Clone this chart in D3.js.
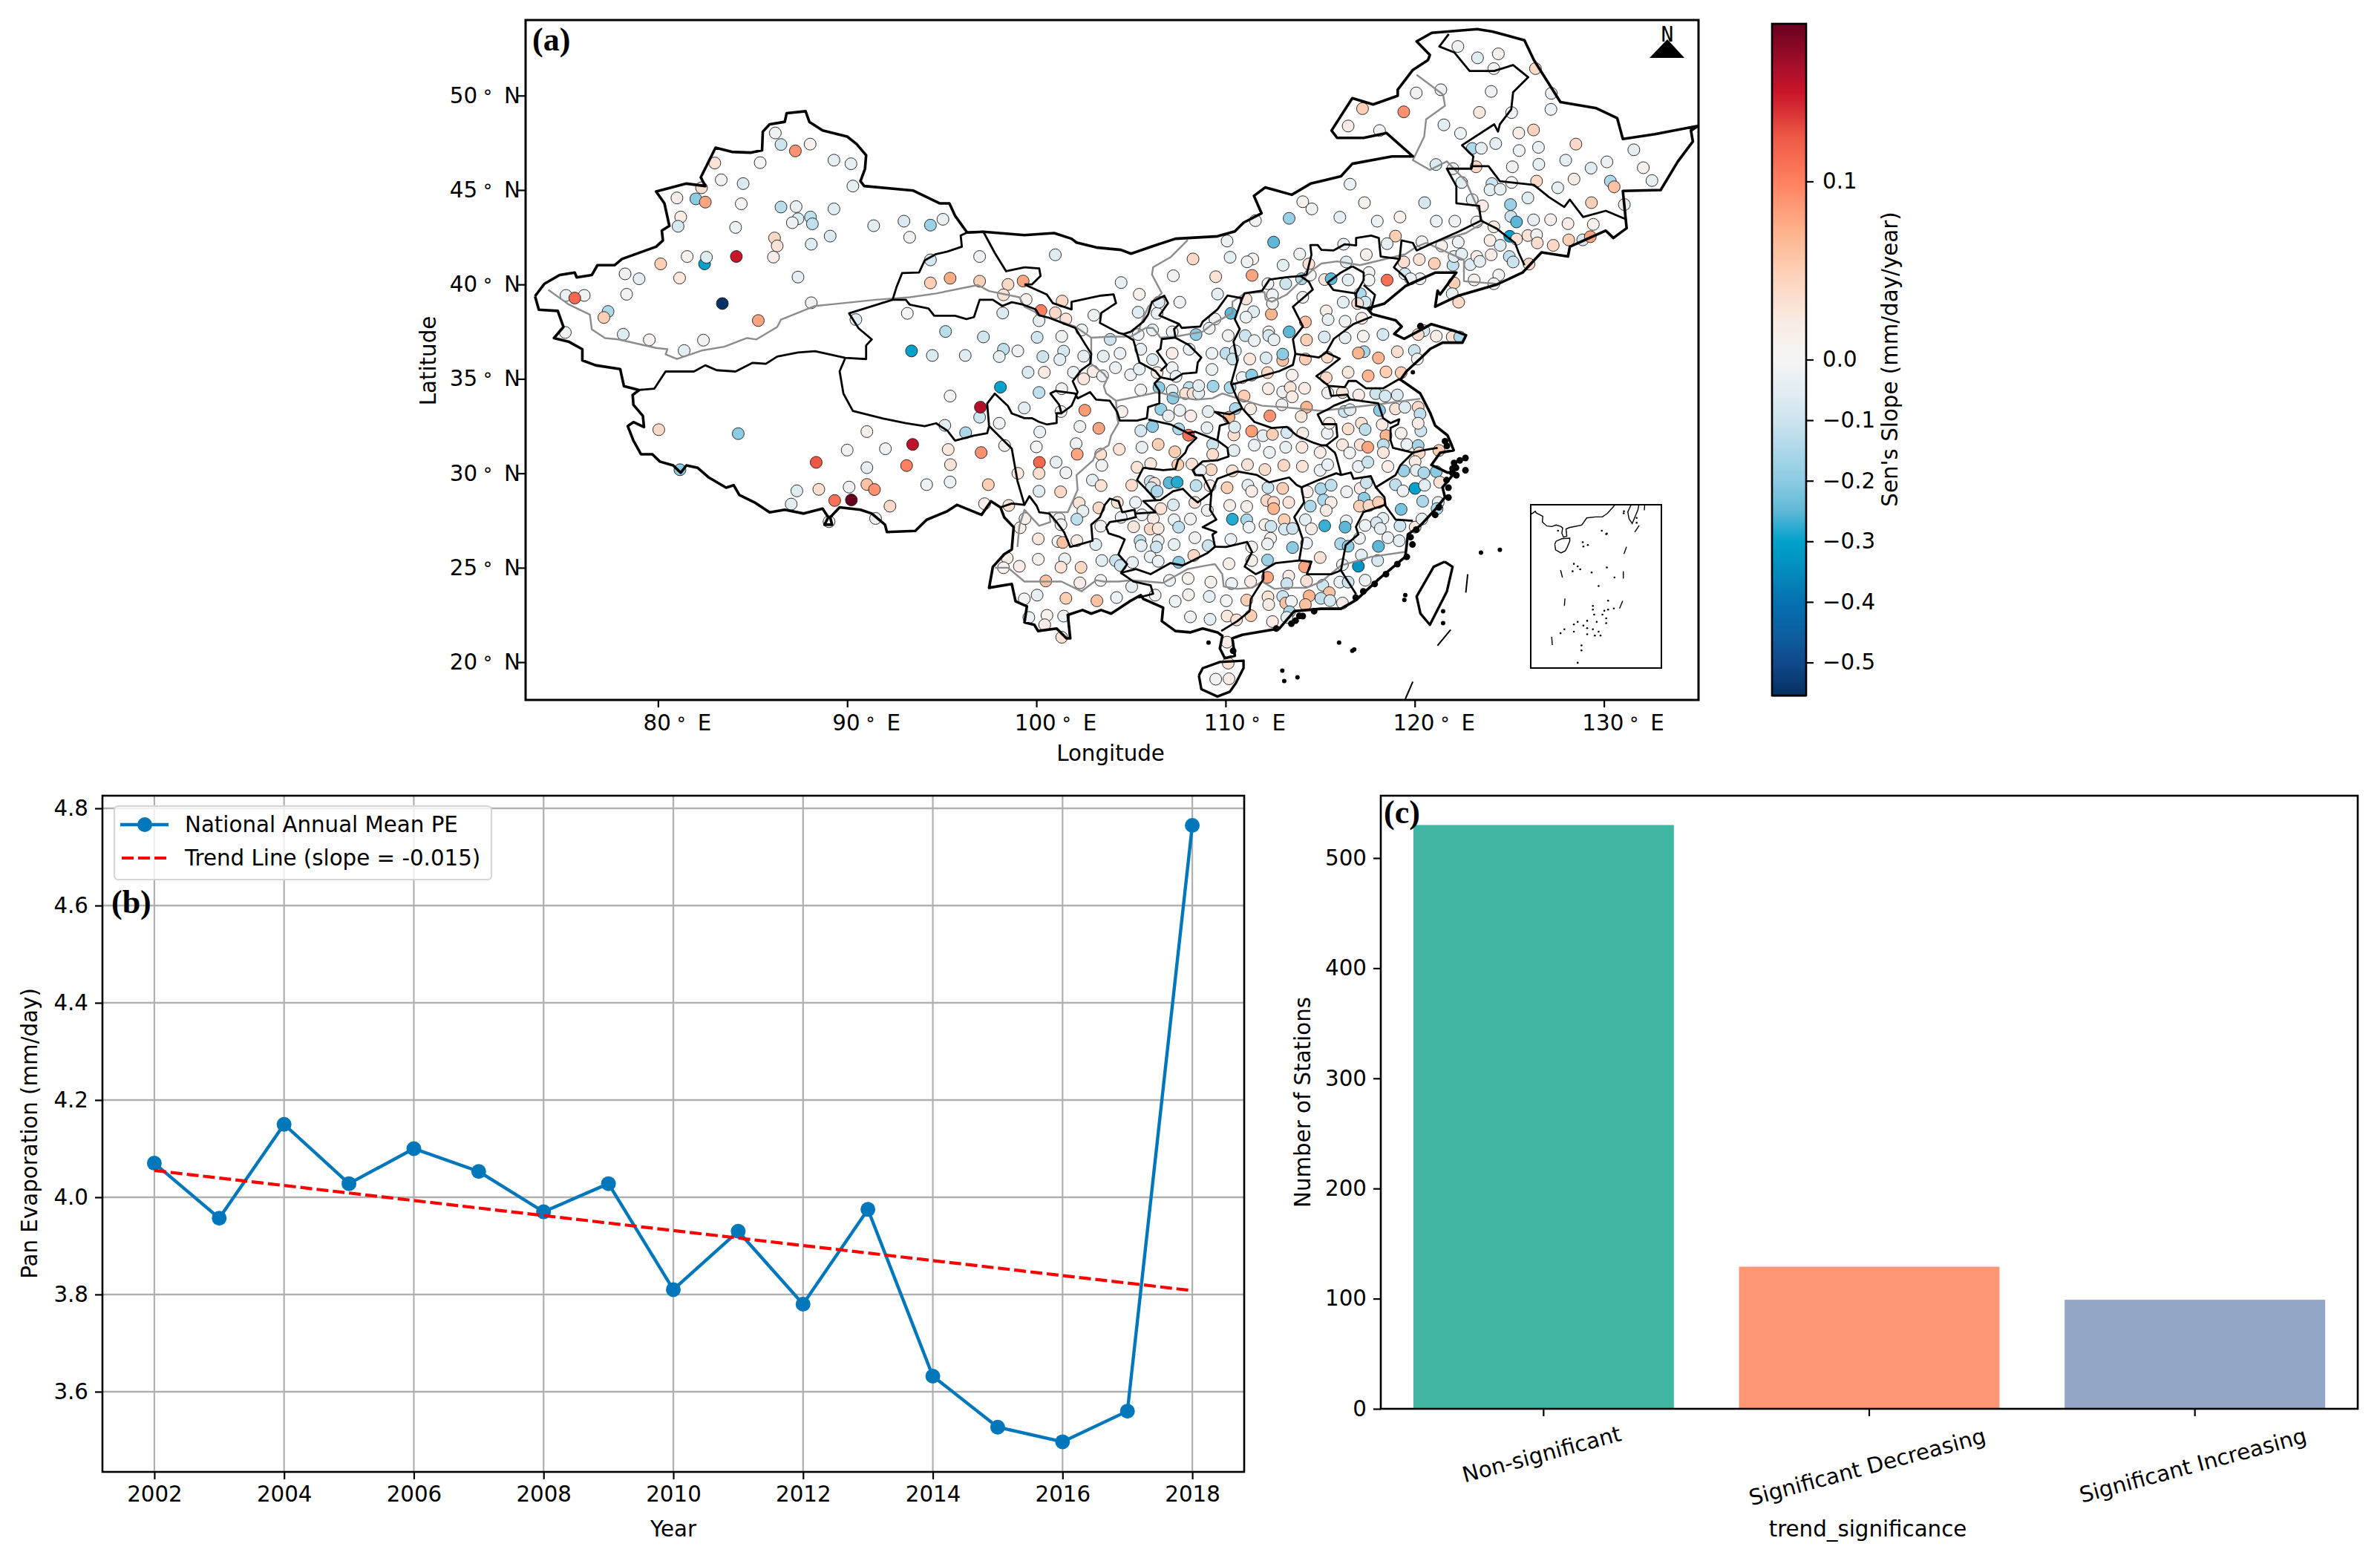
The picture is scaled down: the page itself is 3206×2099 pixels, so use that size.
<!DOCTYPE html>
<html>
<head>
<meta charset="utf-8">
<script src="https://cdn.jsdelivr.net/npm/d3@7"></script>
<style>
body { margin: 0; background: #fff; }
text { font-family: "DejaVu Sans"; fill: #000; }
</style>
</head>
<body>
<script>
// panel (b) values
var years = [2002,2003,2004,2005,2006,2007,2008,2009,2010,2011,2012,2013,2014,2015,2016,2017,2018];
var meanPE = [4.07,3.957,4.15,4.028,4.10,4.053,3.97,4.028,3.81,3.93,3.78,3.975,3.632,3.527,3.497,3.56,4.765];
var trendYears = [2002,2018];
var trendPE = [4.055,3.808];

// panel (c) values
var trendCats = ["Non-significant","Significant Decreasing","Significant Increasing"];
var trendCounts = [530,129,99];
var trendColors = ["#41b7a3","#fe9773","#92a6c6"];

// colour bar stops
var slopeStops = [-0.5545,-0.5,-0.46,-0.4,-0.356,-0.3,-0.25,-0.2,-0.1,-0.05,0,0.021,0.049,0.074,0.1,0.1245,0.15,0.165,0.1885];
var colorStops = ["#053061","#10488a","#0e5c9e","#0571b0","#0588bb","#00a2cc","#5fb7d7","#8ccbe2","#cde4ef","#e4eef3","#f5f5f5","#f9ece5","#fdd0b7","#fdb089","#ff8060","#ee5a46","#c9142a","#a50f2b","#67001f"];
var slopeTicks = [0.1,0,-0.1,-0.2,-0.3,-0.4,-0.5];

// stations: lon, lat, sen's slope
var stations = [
[86.2,48.02,-.02],[86.5,47.41,-.1],[87.26,47.07,.09],[88.04,47.43,.01],[89.3,46.58,-.05],[90.2,46.39,-.04],[90.3,45.21,-.04],[83,46.43,.03],[85.4,46.45,-.01],[83.34,45.54,-.02],[84.5,45.34,-.07],[82.3,45.12,.035],[81,44.58,.02],[82,44.53,-.2],[82.5,44.36,.08],[84.4,44.27,.005],[86.5,44.1,-.13],[87.3,44.12,-.03],[89.3,44,-.06],[88.06,43.57,-.12],[87.4,43.48,-.06],[87.1,43.27,-.03],[88.16,43.21,-.12],[81.2,43.57,.02],[81.06,43.08,-.08],[84.1,43.02,-.03],[91.4,43.11,-.05],[93,43.35,-.07],[94.4,43.14,-.18],[95.06,43.45,-.03],[93.3,42.5,-.02],[89.1,42.56,-.07],[88.1,42.13,-.06],[86.16,42.46,.04],[86.3,42.04,.03],[86.1,41.45,.02],[82.46,41.09,-.3],[82.56,41.44,-.06],[81.54,41.48,.01],[84.14,41.48,.15],[80.14,41.09,.05],[81.14,40.34,.025],[87.4,40.39,-.05],[78.26,40.56,-.02],[79,40.3,-.05],[75.14,39.42,-.03],[76.1,39.42,-.015],[75.6,39.28,.115],[78.34,39.48,-.015],[77.36,38.57,-.15],[77.14,38.25,.05],[83.4,38.99,-.55],[88.1,39.03,-.02],[85.3,38.09,.08],[75.1,37.46,-.02],[78.16,37.36,-.06],[79.54,37.07,.008],[82.4,37.05,-.02],[81.38,36.5,-.05],
[101,41.57,-.06],[94.4,41.3,-.08],[97,41.48,-.02],[94.4,40.08,.05],[95.44,40.33,.075],[97,40.17,.05],[98.5,40,.04],[99.3,40.18,.08],[98.26,39.45,.03],[99.46,39.2,.01],[101.36,39.12,.04],[100.24,38.62,.1],[101,38.5,.04],[101.56,38.17,.03],[93.18,38.47,-.01],[98.22,38.49,-.07],[100.14,38.08,-.04],[103.04,38.37,-.02],[95.2,37.51,-.13],[97.2,37.22,-.09],[100.04,37.2,-.09],[101.34,37.25,-.02],[102.4,37.59,-.02],[90.46,38.14,-.05],[93.4,36.48,-.3],[94.5,36.24,-.07],[96.24,36.24,-.06],[98.26,36.57,-.12],[98.04,36.18,-.04],[99.02,36.48,-.02],[100.34,36.18,-.1],[101.44,36.47,-.08],[101.24,36.02,-.05],[102.5,36.2,-.05],[103.54,36.2,-.05],[99.56,35.35,-.07],[100.42,35.35,.02],[101.96,35.35,-.03],[103,35.39,.02],[102.5,35,.025],[103.5,35.16,-.02],[103.9,37.09,-.1],
[98.1,34.56,-.3],[95.44,34.09,-.01],[100.14,34.28,-.12],[101.34,34.48,-.02],[99.36,33.46,-.05],[101.3,33.27,-.02],[102.56,33.34,.085],[97,32.97,-.1],[97.04,33.5,.16],[98.04,32.65,-.02],[95.16,32.54,-.05],[100.18,32.19,-.03],[102.3,32.48,-.02],[103.3,32.38,.08],[80.04,32.31,.04],[84.24,32.1,-.2],[91.04,32.21,.012],[96.26,32.15,-.15],[100,31.4,-.01],[102.1,31.57,-.015],[98.32,31.47,.01],[90,31.23,-.015],[92.02,31.3,-.02],[93.46,31.53,.155],[95.34,31.26,.025],[97.08,31.1,.09],[102.16,31.01,.08],[103.4,31.01,.035],[101.04,30.59,-.04],[100.16,30.58,.115],[103.46,30.42,-.02],[88.36,30.58,.125],[91.04,30.3,-.05],[93.14,30.41,.1],[95.46,30.46,.03],[100.14,30,.035],[99.02,30,.025],[101.56,30.03,-.02],[102.96,29.64,-.05],[103.42,29.35,.03],[94.2,29.4,-.02],[95.44,29.54,-.02],[97.46,29.4,.05],[91.04,29.41,.06],[91.44,29.14,.09],[90.1,29.27,-.02],[88.5,29.15,.035],[87.34,29.07,-.06],[100.14,29.05,-.06],[101.28,29.02,.04],[87.04,28.37,-.05],[89.34,28.56,.11],[90.22,28.59,.1885],[92.26,28.26,.04],[97.26,28.39,.015],[98.54,28.3,.03],[102.26,28.43,.03],[102.46,28,-.04],[103.3,28.17,.04],[91.5,27.61,-.03],[89.04,27.44,-.01],[81.16,30.19,-.2],[99.14,27.12,.015],[99.4,27.6,.015],[101.2,27.6,-.02],[102.14,27.57,-.12],[101.3,27.28,-.02],[103.4,27.2,-.02],[100.1,26.53,.025],[101.14,26.39,-.01],[101.4,26.34,.06],[102.14,26.43,.02],[103.14,26.23,-.06],[98.46,25.51,.02],[100.1,25.45,.01],[101.5,25.47,-.03],[103.46,25.38,-.05],[101.3,25.03,.03],[102.36,25.02,.04],[99.1,25.08,.02],[98.26,25,.01],[100.5,24.3,.06],[102.3,24.2,.02],[103.4,24.33,-.02],[100.04,23.55,-.04],[99.36,23.35,-.01],[101.56,23.38,.05],[103.2,23.25,.06],[99.6,22.37,-.03],[100.56,22.48,.01],[101.44,22.44,-.02],[100.44,21.98,.02],[101.34,21.32,.03],
[122.28,52.6,-.02],[124.42,52.21,.01],[123.32,52,-.06],[124.18,51.43,-.02],[126.38,51.43,.04],[121.38,50.31,-.02],[120.08,50.14,-.02],[124.04,50.22,-.02],[127.22,50.12,-.03],[117.24,49.31,.05],[119.42,49.14,.09],[123.42,49.11,.025],[125.12,49.1,-.02],[127.2,49.27,-.03],[121.54,48.45,-.05],[116.48,48.39,.02],[118.14,48.15,-.02],[122.42,48,-.02],[125.5,48.02,.02],[126.28,48.18,.045],[123.04,47.2,-.15],[123.52,47.21,-.05],[124.28,47.46,-.05],[125.52,47.09,-.02],[126.54,47.26,-.03],[128.52,47.43,.04],[131.58,47.13,-.05],[127.98,46.58,-.05],[126.56,46.36,-.04],[125.16,46.23,-.02],[129.32,46.16,-.06],[130.16,46.49,-.03],[132.08,46.18,.01],[123.24,46.23,.04],[121.12,46.35,-.07],[122.02,46.13,-.03],[122.48,45.4,-.06],[124.08,45.34,-.1],[125.12,45.4,-.01],[126.44,45.47,.04],[128.42,45.58,.02],[130.34,45.47,-.15],[130.54,45.17,.06],[132.54,45.5,-.04],[123.98,45.01,-.05],[124.52,45.04,-.04],[127.56,45.12,-.04],[125.98,44.58,-.06],[116.58,45.31,-.03],[114.08,44.38,.01],[114.56,44,-.015],[117.34,44.33,.01],[120.52,44.33,-.08],[125.06,44.23,-.18],[129.34,44.33,.05],[131.08,44.23,-.04],[123.04,44.49,-.04],[123.58,44.16,.02],[111.58,43.38,-.02],[113.36,43.5,-.18],[116.04,43.56,-.05],[118.02,43.35,-.02],[119.22,43.57,.012],[121.14,43.35,-.03],[122.12,43.35,-.02],[123.28,43.31,-.02],[125.08,43.6,-.1],[125.38,43.31,-.25],[126.28,43.42,-.04],[127.18,43.43,.012],[128.1,43.22,.02],[129.44,43.18,.012],[124.18,43.05,.02],[118.98,42.56,.05],[110.08,42.3,-.03],[112.54,42.24,-.25],[116.24,42.13,-.03],[118.54,42.16,-.05],[120.38,42.26,-.02],[122.3,42.24,-.03],[121.42,42.04,.015],[125.02,42.55,-.3],[125.98,42.59,.03],[126.44,42.63,-.02],[125.38,42.4,.03],[123.98,42.33,.02],[126.48,42.2,.035],[127.32,42.07,.04],[128.88,42.36,-.08],[128.14,42.36,.05],[129.28,42.53,.08],[124.52,42.07,-.06],[117.44,41.58,.012],[124.04,41.57,.02],[108.28,41.35,.04],[110.24,41.44,-.05],[111.44,41.35,.01],[111.14,41.2,-.02],[113.04,41.02,-.05],[113.92,41.61,-.02],[114.4,41.08,.035],[116.38,41.19,-.06],[119.42,41.19,.035],[120.24,41.32,.03],[121.04,41.11,.05],[122.02,41.02,-.12],[122.08,41.48,-.04],[122.48,41.61,-.05],[122.94,41.05,-.06],[123.28,41.48,.02],[123.44,41.22,-.05],[125,41.48,-.12],[125.2,41.19,-.1],[126.04,41.08,.04],[124.44,40.5,.01],[123.14,40.24,.01],[124.18,40.04,-.02],[122.08,40.08,.05],[107.24,40.46,-.015],[109.48,40.41,.03],[111.4,40.48,.08],[104.48,40.1,-.04],[112.24,40.04,-.02],[113.18,40.04,-.1],[114.02,40.3,-.15],[114.48,40.5,-.01],[115.24,40.26,.025],[115.58,40.3,-.25],[116.48,40.24,-.05],[118.54,40.23,.11],[117.58,40.63,-.02],[117.58,40.23,-.015],[119.48,40.56,-.08],[120.28,40.3,-.02],[119.78,40.3,-.03],[105.44,39.48,.012],[109.58,39.49,-.05],[107.58,39.06,-.02],[105.38,38.53,-.06],[106.38,38.47,-.03],[106.48,39.06,-.06],[111.08,39.23,.03],[111.48,38.56,-.06],[111.08,38.27,-.03],[110.28,38.47,-.25],[109.44,38.17,-.03],[112.42,38.43,.07],[112.48,39.45,-.02],[112.48,38.99,-.02],[114.08,39.32,-.02],[116.22,39.06,-.05],[117.12,39.51,-.15],[117.38,39.06,-.08],[116.98,38.99,.03],[115.32,38.6,.02],[115.42,38.14,-.04],[116.32,38.05,-.02],[117.2,38.21,.02],[114.22,38.01,.06],[121.98,39.51,-.04],[122.32,39.06,.04],[107.18,37.49,-.03],[106.14,37.59,-.03],[105.38,37.35,-.02],[108.44,37.35,-.2],[109.14,37.68,-.03],[110.14,37.29,-.02],[111.04,37.29,-.1],[111.52,37.03,-.03],[112.28,37.49,.01],[112.28,37.29,-.08],[112.56,37.07,-.04],[113.36,37.49,-.25],[114.28,37.06,.05],[115.22,37.22,-.07],[116.32,37.18,-.04],[117.28,37.26,.01],[118.32,37.35,-.08],[120.48,37.55,-.08],[120.18,37.35,.035],[121.14,37.26,.02],[121.98,37.22,.03],[122.38,37.22,-.15],[108.08,36.57,-.03],[107.18,36.35,.02],[109.28,36.35,-.02],[110.02,36.35,-.12],[110.52,36.48,-.05],[110.38,36.05,-.1],[111.28,36.05,.025],[112.14,36.11,-.07],[113.02,35.98,.06],[113.02,36.31,-.2],[114.22,36.05,.05],[115.38,36.15,.04],[117.32,36.44,-.15],[117.02,36.37,.07],[118.08,36.11,.07],[119.08,36.44,.035],[119.98,36.5,-.1],[120.14,36.05,.01],[104.42,36.35,-.03],[105.52,36.57,-.04],[106.14,36.02,-.06],[104.18,35.59,-.03],[104.98,35.22,-.02],[105.44,35.52,-.04],[106.38,35.33,.02],[107.18,35.59,-.02],[109.28,35.5,-.03],[107.38,35.13,-.03],[110.88,35.07,-.02],[111.38,35.2,-.2],[112.22,35.33,.04],[113.52,35.2,.012],[115.32,35.06,.04],[116.48,35.35,.025],[117.54,35.16,.07],[118.48,35.37,.05],[119.28,35.33,.05],
[106.48,34.54,-.2],[107.18,34.39,-.04],[108.08,34.54,-.12],[107.88,34.22,.03],[108.28,34.22,.03],[108.58,34.24,-.04],[108.58,34.64,-.04],[109.34,34.61,-.17],[110.24,34.54,-.15],[105.52,34.41,-.01],[107.22,33.98,-.2],[110.98,34.09,.05],[112.26,34.48,.02],[113.02,34.31,-.02],[113.42,34.54,.03],[114.18,34.5,.02],[113.52,34.05,.02],[115.4,34.26,-.02],[116.18,34.28,.03],[117.04,34.15,.02],[117.94,34.22,-.1],[118.44,34.09,-.08],[119.08,34.15,-.07],[114.28,33.5,.07],[112.98,33.63,-.02],[104.52,33.27,.015],[106.58,33.39,-.18],[107.58,33.33,-.03],[106.98,33.04,-.03],[108.16,33.04,.02],[109.08,33.27,-.05],[110.52,33.43,-.15],[110.18,32.97,.07],[111.32,33.41,.02],[112.34,33.04,.09],[114,33.01,.025],[116.28,33.27,-.1],[116.58,33.37,-.06],[118.14,33.33,-.2],[118.98,33.41,.03],[119.48,33.5,-.06],[120.18,33.5,.04],[120.28,33.14,-.12],[105.52,32.25,-.08],[106.14,32.48,-.2],[107.52,32.35,-.15],[108.04,32.02,.11],[109.02,32.41,-.04],[109.32,31.53,-.1],[110.44,32.03,.035],[110.48,32.45,-.06],[111.38,32.23,.085],[111.98,31.99,-.05],[112.48,32.06,.05],[113.24,32.16,-.08],[114.08,32.12,.02],[115.38,32.12,-.03],[115.48,32.65,.02],[116.48,32.35,.035],[117.18,32.65,.03],[117.38,32.32,-.12],[118.48,32,.07],[118.28,32.58,.02],[119.28,32.12,.01],[120.32,32.25,-.1],[120.18,32.65,.02],
[104.38,31.27,.03],[105.58,31.38,-.04],[106.44,31.53,.05],[107.32,31.14,.05],[109.32,31,.035],[110.44,31.21,-.05],[111.52,31.49,-.03],[112.32,31.11,-.03],[113.18,31.38,-.04],[114.04,31.38,.025],[115,31.11,.02],[116.18,31.51,.025],[116.56,31.08,-.02],[117.12,31.51,.03],[117.52,31.38,.08],[118.34,31.51,-.12],[118.34,31.1,.025],[119.58,31.53,-.03],[120.18,31.47,-.16],[120.24,31.08,.04],[121.28,31.21,.05],[105.32,30.32,.03],[106.04,30.51,.025],[107.48,30.46,.05],[108.22,30.49,.03],[109.24,30.19,.04],[108.68,30.16,-.03],[110.36,30.13,.03],[111.16,30.46,.03],[112.08,30.2,.035],[113.08,30.42,.04],[114.06,30.37,.03],[115,30.16,-.03],[115.4,30.46,-.03],[117.02,30.36,-.03],[117.52,30.59,-.1],[118.58,30.36,.015],[120.02,30.62,.02],[119.42,30.13,-.18],[120.08,30.16,-.05],[120.48,30.03,-.15],[121.14,30.09,-.2],[121.32,29.53,.03],[105.04,29.37,.035],[106.02,29.57,-.1],[106.24,29.47,.03],[106.08,29.24,-.1],[106.38,29.05,-.15],[107.02,29.5,-.25],[107.44,29.53,-.28],[108.44,29.35,-.12],[109.18,29.34,.015],[110.08,29.24,.05],[111.18,29.37,-.05],[111.38,29.05,.02],[112.24,29.24,-.1],[113.02,29.2,.05],[114.32,29.02,.015],[115.04,29.18,-.15],[115.58,29.37,-.12],[116.4,29.02,-.02],[117.12,29.2,.02],[117.44,29.5,-.1],[118.98,29.4,-.12],[119.38,29.07,-.03],[120.02,29.2,-.3],[120.52,29.37,-.05],
[104.28,28.46,.03],[105.24,28.46,-.03],[106.58,28.13,.03],[107.24,28.33,-.07],[108.38,28.46,.03],[109.04,28.04,-.03],[110.22,28.3,.015],[111.12,28.24,.015],[112.18,28.56,.04],[112.54,28.46,.04],[112.54,28.13,.07],[113.34,28.46,.03],[114.48,28.26,-.15],[115.18,28.59,-.15],[115.58,28.46,.02],[115.32,28.04,.02],[117.32,28.68,-.2],[117.08,28.26,.05],[117.58,28.29,.04],[118.08,28.46,.05],[119.28,28.09,-.22],[120.42,28.52,-.15],[121.24,28.46,-.05],[121.18,28.13,-.15],[104.48,27.67,-.03],[105.58,27.8,-.02],[106.18,27.6,.02],[107.28,27.54,-.03],[108.14,27.58,-.02],[107.52,27.15,-.12],[105.14,27.17,.025],[106.02,27.05,.04],[106.44,27.08,.025],[110.36,27.57,-.28],[111.12,27.54,-.15],[111.24,27.15,-.03],[112.08,27.28,.015],[112.4,27.19,-.1],[113.1,27.54,.05],[113.12,27.04,-.08],[113.54,27.08,-.1],[114.22,27.54,-.05],[114.54,27.06,.015],[115.24,27.22,-.27],[116.38,27.48,-.03],[116.32,27.15,-.25],[117.38,27.24,-.03],[118.32,27.61,-.05],[117.98,27.38,-.08],[118.18,27.08,-.05],[119.22,27.22,-.1],[120.02,27.15,.025],[120.38,27.58,-.04],
[105.48,26.43,-.12],[105.54,26.17,-.05],[106.44,26.43,-.03],[106.34,26.1,-.1],[107.28,26.23,-.04],[108.38,26.59,-.02],[109.08,26.17,-.1],[110.28,26.5,-.03],[111.38,26.1,.012],[112.38,26.56,.015],[112.22,26.26,-.03],[113.54,26.07,-.2],[114.28,26.3,-.03],[116.08,26.27,-.15],[116.48,26.14,-.2],[117.08,26.56,-.03],[118.58,26.59,-.03],[118.08,26.13,-.25],[119.18,26.43,-.05],[104.18,25.38,-.1],[104.44,25.12,-.1],[105.08,25.28,-.04],[106.02,25.58,-.03],[106.44,25.34,-.03],[107.52,25.29,-.2],[108.32,25.65,.04],[110.18,25.21,.015],[111.38,25.38,.015],[112.22,25.41,-.18],[114.18,25.05,.08],[115,25.54,.03],[116.18,25.16,-.03],[117.18,25.67,-.05],[117.02,25.08,-.33],[118.04,25.38,-.08],
[112.22,24.49,.08],[113.34,24.56,.02],[107.04,24.33,-.03],[108.02,24.43,.012],[109.22,24.24,.01],[110.32,24.16,-.03],[111.32,24.27,.02],[113.24,24.16,-.1],[114.28,24.3,.03],[115.14,24.07,-.1],[116.04,24.24,-.03],[116.48,24.24,-.1],[117.38,24.34,-.02],[105.04,24,-.04],[104.24,23.42,-.02],[106.28,23.55,-.02],[107.34,23.22,-.02],[108.04,23.57,.012],[109.14,23.48,-.05],[110.04,23.25,-.01],[111.12,23.29,.05],[112.24,23.46,.03],[112.28,23.05,.02],[113.02,23.48,-.1],[113.18,23.13,.06],[113.48,23.22,-.02],[114.42,23.51,.07],[114.22,23.05,.06],[115.48,23.68,.06],[115.04,23.38,-.12],[115.52,23.26,-.08],[116.18,23.13,.02],[108.14,22.4,-.02],[109.18,22.27,-.05],[110.08,22.44,.025],[110.58,22.24,.03],[111.34,22.46,.05],[112.48,22.15,.02],[113.38,22.67,-.15],[113.24,22.37,-.04],[110.08,21.06,.02],[110.14,19.95,.03],[109.48,19.1,-.02],[110.18,19.12,.02]
];

// thick black national outline, lon/lat
var chinaOutline = [[73.5,39.38],[74,40.04],[74.8,40.5],[75.6,40.63],[75.7,40.37],[76.5,40.5],[76.8,41.02],[77.7,41.02],[78.1,41.35],[79.9,42],[80.26,42.33],[80.2,42.85],[80.6,43.1],[80.34,44.29],[79.9,44.92],[81.5,45.34],[82.5,45.21],[82.26,45.67],[83.04,47.24],[83.9,47.02],[84.9,46.98],[85.5,47.1],[85.54,48.09],[85.9,48.48],[86.7,48.61],[86.8,49.07],[87.8,49.17],[88,48.61],[88.7,48.15],[90,47.83],[90.5,47.43],[91,46.84],[90.94,46.12],[90.7,45.47],[90.9,45.21],[93.5,44.97],[94.9,44.29],[95.4,44.29],[95.7,43.64],[96.34,42.75],[97.2,42.79],[99.37,42.61],[100.94,42.72],[101.86,42.42],[102.12,42.22],[103.16,41.96],[104.47,41.83],[105,41.63],[106.17,42.03],[107.35,42.42],[109.57,42.55],[110.49,42.81],[110.95,43.27],[111.9,43.77],[111.5,44.69],[112.1,45.14],[113.5,44.75],[114.5,45.34],[116.1,45.73],[116.7,46.39],[118.8,46.78],[119.9,46.78],[118.5,48.02],[117.3,47.76],[115.9,47.76],[115.6,48.15],[116.7,49.86],[117.8,49.53],[119.1,49.99],[119.1,50.31],[119.9,51.36],[120.7,51.88],[120.8,52.15],[120.1,52.87],[120.9,53.32],[123.3,53.52],[124.1,53.39],[125.8,52.93],[126.3,51.88],[127.7,49.66],[129.6,49.33],[130.7,48.81],[131,47.7],[132.7,47.96],[135,48.4],[134.6,48.15],[134.7,47.57],[133.9,46.5],[133,45],[131,44.95],[131.2,42.98],[130.5,42.46],[130.1,42.85],[128.2,42],[128.1,41.48],[126.7,41.7],[125.7,40.63],[124.35,40],[122.32,39.41],[121.08,38.82],[121.21,39.67],[121.34,39.47],[122.2,40.63],[121.1,40.63],[119.5,39.91],[118.4,38.99],[117.5,38.73],[117.74,38.43],[118.99,38.1],[119.31,37.77],[118.92,37.38],[119.44,37.12],[120.29,37.58],[120.88,37.9],[122.19,37.51],[122.71,37.31],[122.52,36.92],[121.47,36.92],[120.82,36.59],[120.29,36.07],[119.57,35.41],[119.25,34.96],[120.29,34.23],[120.82,33.19],[121.08,32.53],[121.73,32.01],[121.93,31.55],[122.06,31.22],[121.34,31.09],[120.88,30.44],[121.73,30.04],[122.12,30.04],[121.47,29.26],[121.6,28.73],[121.08,28.08],[120.29,27.23],[119.64,26.77],[119.5,25.58],[118.1,24.4],[116.9,23.29],[116.1,22.83],[115.07,22.83],[113.63,22.7],[112.84,21.78],[110.88,21.45],[110.36,21.26],[110.49,20.34],[109.96,20.21],[109.7,20.73],[109.83,21.39],[109.57,21.58],[108.79,21.78],[108.13,21.58],[107.35,21.65],[106.63,22.17],[106.7,22.89],[105.65,23.35],[105.52,23.55],[104.93,23.22],[103.95,22.57],[103.42,22.76],[102.9,22.57],[102.44,22.76],[101.66,22.5],[101.79,21.26],[101.59,21.26],[101.07,21.78],[100.09,21.65],[99.89,21.98],[99.37,22.11],[99.5,22.96],[98.9,23.22],[98.7,24.14],[97.5,23.94],[97.7,25.05],[98.3,25.71],[98.7,25.97],[98.8,27.15],[98.3,27.67],[98.1,28.2],[97.6,28.52],[97.1,27.8],[95.8,28.33],[95.3,28],[94.2,27.54],[93.6,26.95],[92.1,26.89],[92,27.28],[91.3,27.87],[90.7,28.07],[89.6,28.2],[89.1,27.67],[89.2,27.28],[88.8,27.28],[89,27.67],[88.7,28.13],[87.7,27.87],[86.7,28.07],[85.9,27.93],[85.1,28.46],[84.3,28.85],[84,29.37],[83.6,29.24],[82.7,29.77],[82.1,30.29],[81.5,30.42],[81.2,30.03],[80.8,30.42],[80.1,30.62],[79.7,31.01],[79.1,31.01],[78.7,31.73],[78.4,32.5],[78.7,32.71],[79.26,32.45],[79.2,33.04],[78.7,33.63],[78.66,34.15],[79,34.41],[78.2,34.61],[78,35.52],[76.7,35.72],[76,35.98],[76,36.57],[75.3,36.96],[74.5,37.16],[75,37.75],[74.7,38.6],[73.7,38.66],[73.5,39.38]];

// province borders
var provinceLines = [
[[96.34,42.75],[96,42.59],[96.06,42],[95.3,41.74],[94.7,41.61],[94.1,41.28],[93.8,40.63],[92.9,40.6],[92.6,39.84],[92.4,39.19],[90.1,38.47],[90.6,37.68],[91.3,37.09],[91,36.77],[91,36.05],[89.9,36.11],[88.3,36.47],[87.4,36.4],[86.3,36.18],[85.7,35.8],[85,35.85],[84.1,35.39],[83.1,35.46],[82.5,35.72],[81.9,35.39],[80.4,35.39],[79.8,34.48],[79,34.41]],
[[92.4,39.19],[93.1,39.19],[93.3,38.93],[94.3,38.73],[94.6,38.34],[95.7,38.34],[96.3,38.17],[96.7,38.27],[97,39.19],[97.7,39.19],[98.2,38.86],[98.7,39.06],[99.3,38.93],[99.96,38.68],[100.15,38.36],[100.68,38.23],[102.05,37.7],[102.57,36.85],[102.9,36.33],[102.84,35.8],[102.38,35.47],[101.92,34.88],[102.18,34.3],[101.86,33.58],[101.33,33.18],[101.2,33.64],[100.74,34.23],[101,34.36],[102.05,34.23],[102.18,33.97],[102.84,34.3],[103.16,33.9],[103.88,33.84],[104.27,33.25],[104.41,32.79],[105.32,32.79],[105.84,32.92],[105.91,33.51],[106.5,33.7],[106.5,34.36],[106.24,34.75],[106.56,35.08],[107.22,34.95],[107.74,35.28],[108.46,35.34],[108.53,35.87],[108.72,36.13],[108.07,36.79],[107.35,37.18],[107.28,37.64],[107.55,37.9],[106.5,38.36],[106.96,39.01],[106.76,39.4],[106.11,39.08],[105.91,38.42],[105.65,38.03],[104.99,37.5],[104.6,37.37],[105.13,37.05],[105.26,36.59],[105.45,35.87],[106.3,35.41],[106.56,35.08]],
[[107.35,37.18],[106.63,37.11],[106.56,36.59],[106.37,36.46],[106.89,35.74],[106.56,35.41]],
[[89.9,36.11],[89.6,35.4],[89.8,34.22],[90.3,33.3],[91.9,32.9],[93.1,32.65],[94.1,32.5],[94.7,32.65],[95.3,32.25],[95.7,31.73],[96.7,32],[97.4,32.12],[97.5,32.5],[97.4,33.7],[97.8,34.22],[98.5,33.56],[98.7,33.17],[99.37,32.92],[99.76,32.92],[100.15,32.72],[100.55,32.59],[101.07,32.66],[101.07,33.18],[101.33,33.18]],
[[97.5,32.5],[98.7,31.3],[99,29.6],[99.37,28.33],[99.63,28.79],[100.02,28.27],[100.15,27.94],[100.68,27.87],[101.07,27.42],[101.46,26.89],[101.79,26.1],[102.51,26.3],[102.97,26.43],[102.9,27.28],[103.36,27.68],[103.62,28.33],[103.88,28.66],[104.34,28.53],[104.54,27.94],[105.19,28.07],[105.26,27.68],[104.73,27.55],[103.88,27.42],[103.69,27.15],[103.82,26.82],[104.41,26.63],[104.67,26.5],[104.34,25.71],[104.8,25.19],[104.47,24.73],[105.26,24.93],[106.04,24.66],[107.09,25.25],[107.74,25.12],[108.26,25.38],[109.05,25.78],[109.44,26.11],[109.31,26.76],[109.51,26.89],[108.79,27.15],[109.51,27.55],[109.18,28.07],[109.25,28.99],[108.53,28.46],[108.2,28.72],[107.74,29.18],[107.22,29.05],[106.56,28.59],[105.65,28.53],[106.3,27.94],[105.26,27.87]],
[[99.37,28.33],[98.7,28.4],[98.1,28.2]],
[[105.65,30.3],[105.32,29.64],[105.78,29.18],[106.3,28.59]],
[[99.37,40.91],[100.15,40.85],[100.22,40.45],[99.76,40],[99.37,40]],
[[96.34,42.75],[97.2,42.79],[97.8,41.67],[98.4,40.7],[99.37,40.91]],
[[99.37,40],[100.55,39.47],[100.87,39.01],[101.86,38.68],[101.86,39.08],[103.42,39.41],[104.08,39.47],[104.21,39.01],[103.43,38.49],[103.36,37.96],[104.34,37.44],[104.6,37.37]],
[[107.55,37.9],[107.68,37.7],[108.66,37.77],[108.79,38.03],[109.57,38.68],[110.1,39.41],[110.88,39.27],[111.01,39.53],[111.93,39.67],[112.32,40.26],[113.24,40.39],[113.96,40.45],[114.41,40.13],[114.61,39.73],[114.02,39.21],[113.56,38.82],[114.09,37.77],[113.56,37.11],[113.69,36.33],[114.93,36.13],[115.32,36.4],[116.04,36.07],[115.45,35.61],[114.8,35.15],[115.45,34.63],[116.3,34.56],[116.5,34.89],[116.89,34.89],[117.42,34.5],[118.33,34.5],[119.12,34.96],[119.25,34.96]],
[[113.96,40.45],[114.28,40.52],[114.54,41.57],[114.48,42.09],[114.87,42.09],[115.07,41.83],[115.7,41.8],[116.3,42.13],[116.9,42.07],[116.9,42.46],[117.7,42.59],[118.1,42.46],[118.2,41.48],[119.2,41.35],[118.9,40.9],[119.5,40.37],[119.7,39.97]],
[[119.2,41.35],[119.3,42.33],[119.9,42.2],[120.1,41.8],[121.1,42.26],[122.3,42.79],[123.5,43.38],[123.4,44.16],[122.2,44.3],[122.2,45.2],[121.7,46.13],[123,46.13],[123.1,46.78],[122.5,47.37],[124.2,48.48],[124.4,48.09],[124.5,48.48],[125.1,49.27],[125.2,50.18],[126,50.97],[125.2,51.62],[124.2,51.3],[122.9,51.3],[122.1,52.28],[121.3,52.6],[121.8,53.26]],
[[123,46.13],[123,46.26],[123.9,46.26],[124.5,45.47],[126.3,45.27],[127.1,44.62],[127.9,44.1],[128.2,44.49],[128.9,43.57],[130.1,43.9],[131.2,43.44]],
[[123.5,43.38],[124.3,42.98],[125.3,42.2],[125.5,41.67],[125.8,41.02]],
[[110.88,39.27],[110.49,38.16],[110.75,37.64],[110.42,36.98],[110.62,35.93],[110.29,34.75],[110.55,34.1],[110.88,33.44],[111.53,32.72],[112.45,32.4],[113.24,32.46],[113.76,32],[114.67,31.61],[115.07,31.48],[115.32,31.48],[115.91,31.94],[115.85,32.6],[115.13,32.6],[114.87,33.12],[115.52,33.45],[115.72,33.58],[116.57,33.91],[116.43,34.17],[115.58,34.1],[115.45,34.63]],
[[110.29,34.69],[112.84,35.41],[113.56,35.74],[113.69,36.33]],
[[116.7,40.96],[116.1,40.63],[115.4,40.1],[115.7,39.71],[116.9,39.52],[117.3,40.23],[117.3,40.63],[116.7,40.96]],
[[116.9,39.52],[116.9,38.86],[117.7,38.66],[117.9,39.45],[117.3,39.97]],
[[115.32,36.4],[115.72,37.12],[116.76,37.9],[117.74,38.3]],
[[105.91,32.85],[107.09,32.59],[108,32.13],[108.4,32.2],[109.57,31.74],[110.1,31.35],[110.16,30.89],[109.57,30.69],[108.79,30.63],[108.26,30.17],[108.4,29.9],[108.79,29.9],[109.25,28.99]],
[[108,32.13],[108.46,31.87],[108,31.41],[107.87,31.09],[107.48,30.69],[107.35,30.23],[106.7,30.17],[105.65,30.3]],
[[110.88,33.44],[110.23,33.13],[109.44,33.25],[109.97,32.92],[110.16,32.66],[109.7,32.53],[109.57,31.74]],
[[115.85,30.9],[115.78,31.09],[115.32,31.48]],
[[115.85,30.9],[116.11,29.91],[116.63,30.04],[116.76,29.71],[117.68,29.85],[117.94,29.26],[118.99,29.91],[119.25,30.44],[119.9,31.09],[120.42,31.22],[121.21,31.35]],
[[116.57,33.91],[118.07,33.71],[118.33,32.92],[118.72,32.66],[119.18,32.86],[119.12,32.6],[118.72,32.4],[118.72,31.75],[118.85,31.35],[119.9,31.09]],
[[109.25,28.99],[109.57,29.71],[110.62,30.1],[111.66,29.91],[112.31,29.52],[113.36,29.78],[113.75,29.39],[114.01,29.26],[114.93,29.65],[115.85,30.0],[116.11,29.91]],
[[114.01,29.26],[114.15,28.46],[113.63,27.68],[113.82,27.28],[114.08,26.5],[113.89,25.38],[114.54,25.32],[114.3,24.66],[115.6,24.66],[116.1,24.86],[116.9,23.6]],
[[109.44,26.11],[110.03,26.1],[111.14,26.37],[111.4,25.84],[111.01,25.06],[111.6,24.66],[112,24.86],[112.65,25.25],[113.89,25.38]],
[[112,24.86],[112,24.4],[111.34,23.35],[111.27,22.7],[110.62,22.17],[109.77,21.65]],
[[104.47,24.73],[105.13,24.27],[106.04,24.07],[106.17,23.62],[105.39,23.42]],
[[117.94,29.26],[118.4,28.73],[118.46,28.27],[118.99,27.55],[119.9,27.49]],
[[118.46,28.34],[117.29,27.95],[116.89,27.16],[117.02,26.77],[116.35,26.2],[116.1,24.86]]
];

// grey divide lines
var grayLines = [
[[74.2,39.71],[75.3,38.93],[76.4,38.4],[76.5,37.62],[77.2,37.16],[77.9,37.09],[79.9,36.64],[80.5,36.57],[80.4,36.3],[81,36.05],[82.3,36.5],[83.5,36.7],[84.7,37.16],[85.2,37.09],[86.3,37.75],[86.5,38.14],[88.3,38.86],[89.7,39],[91.5,39.19],[93.3,39.32],[94.7,39.52],[96.9,39.97],[97.5,39.65],[99.1,39.32],[99.37,38.82],[100.29,38.36],[102.05,37.77],[102.64,37.37],[102.9,37.18],[103.95,37.24],[105,37.24],[105.78,37.7],[106.17,37.7],[106.56,37.18],[107.35,37.24],[108.79,37.5],[109.31,37.9],[110.36,38.49],[110.36,39.08],[111.01,39.53],[112.06,39.6],[112.12,39.21],[112.45,39.08],[113.24,39.47],[113.76,39.97],[114.54,40.72],[115.07,41.11],[115.9,41.22],[117.1,41.02],[119.5,41.6],[120.1,42],[120.6,42.2],[121.5,41.8],[122.6,41.3],[122.6,40.17],[124.3,40.04]],
[[120.1,51.1],[121.5,50.05],[121.6,49.46],[120.6,48.74],[120.5,47.83],[119.9,46.58],[120.8,46.06],[121.7,46.52],[122.7,45.47],[123.4,43.9],[123.6,43.25],[122.7,42.72],[120.7,42.13]],
[[108,42.35],[107.09,41.44],[106.17,40.91],[106.11,40.52],[106.63,39.54],[105.91,38.82],[105.52,37.9],[105.39,37.5]],
[[102.9,37.18],[102.9,36.59],[102.9,35.8],[103.56,35.28],[103.75,35.02],[103.56,34.62],[103.69,34.23],[104.21,33.84],[105.52,34.1],[106.43,34.3],[107.48,34.03],[108.4,33.9],[109.31,33.97],[109.83,34.23],[110.62,33.97],[111.93,33.58],[112.97,33.51],[115.07,33.31],[117.9,33.63],[120.3,33.95]],
[[104.21,33.84],[104.27,32.92],[104.34,32.66],[103.95,32],[103.82,31.48],[103.16,31.09],[103,30.69],[102.12,29.9],[102.18,29.12],[101.66,27.94],[100.68,27.94],[100.74,27.42],[100.15,27.22],[99.37,28.07],[99.1,27.2],[99,26.1]],
[[97.8,25],[98.5,25],[99.37,24.27],[100.55,24.27],[101.33,24.27],[102.38,23.75],[103.16,24.34],[103.56,24.27],[104.34,24.27],[105,24.34],[106.7,24.2],[108,24.93],[108.98,25.12],[109.44,25.19],[109.83,24.66],[109.9,24.01],[110.62,23.88],[111.4,23.94],[111.93,24.27],[112.58,23.88],[113.24,23.94],[114.28,23.94],[115.07,24.27],[116.1,25.12],[117.7,25.58],[119.5,25.84]]
];

var hainan = [[108.59,19.29],[108.79,19.68],[109.7,20.01],[110.95,20.08],[110.95,19.69],[110.55,18.9],[110.23,18.44],[109.57,18.18],[108.72,18.57],[108.59,19.29]];
var taiwan = [[121.58,25.32],[122,25.05],[121.7,23.75],[120.8,21.98],[120.3,22.57],[120.1,23.48],[121,25.05],[121.58,25.32]];

// south china sea dashes
var seaDashes = [
[[122.8,24.66],[122.7,23.68]],[[121.9,21.72],[121.2,20.87]],[[119.9,18.97],[119.5,18.05]],
[[119.4,15.8],[119.4,14.85]],[[109.5,15.96],[109.8,15]],[[110.2,12.29],[110.1,11.33]],[[119.3,11.97],[118.8,11]],[[108.1,7.34],[108.2,6.28]]
];
// small islands
var islandDots = [[116,21.04],[116.8,20.67],[113,19.55],[113.8,19.2],[123.5,25.8],[124.5,25.95],[119.5,23.55],[119.45,23.3],[121.5,22.7],[121.5,22.07],[109.1,21.04],[119.9,35.35],
[114.6,11.33],[114.6,10.85],[114.8,10.2],[116.4,10.7],[117,10.85],[117.9,11],[116.1,10.2],[116.7,9.73],[115.2,9.26],[113.7,9.4],[112.2,9.26],[111.6,8.94],[110.1,8.3],[109.5,7.8],[111.6,8],[113.7,8.46],[114.6,8.3],[115.5,8],[113.7,7.66],[114.9,7.5],[115.8,7.5],[116.7,9.1],[113.1,8.78],[112.8,6.22],[112.8,5.58],[112.2,3.98],
[111.6,16.76],[112.2,16.44],[112.6,16.06],[111.4,15.8],[114.4,15.65],[116.7,20.6],[113.1,19],[116.8,16.3],[118,15],[115.5,13.9],[117,12]];
// thick clusters along the coast
var coastDots = [[122.38,30.68],[122.68,30.81],[122.08,30.55],[122.18,30.29],[122.68,30.16],[121.98,30.03],[121.68,29.64],[121.78,29.24],[121.78,28.72],[121.28,28.2],[121.08,27.8],[120.08,27.02],[119.78,26.62],[119.88,26.23],[119.58,25.58],[119.08,25.19],[118.48,24.66],[117.88,24.14],[117.28,23.75],[116.88,23.42],[114.68,22.7],[114.08,22.44],[113.48,22.04],[112.68,21.78],[113.9,22.45],[113.7,22.2],[110.4,20.6],[121.6,31.7],[121.7,31.45],[122,30.25],[122.2,29.9],[120.3,37.8]];

var svg = d3.select("body").append("svg").attr("width", 3206).attr("height", 2099);
svg.append("rect").attr("width", 3206).attr("height", 2099).attr("fill", "#fff");

var slopeColor = d3.scaleLinear().domain(slopeStops).range(colorStops).clamp(true);
var fontPx = 29.3;

function styleAxis(g) {
    g.select(".domain").remove();
    g.selectAll(".tick line").attr("stroke", "#000").attr("stroke-width", 2.2);
    g.selectAll(".tick text").style("font-family", "DejaVu Sans").style("font-size", fontPx + "px");
}
// map ticks are written digits, small raised degree, gap, letter
function degreeLabel(g, letter, anchor, x) {
    g.selectAll(".tick text").each(function(d) {
        var t = d3.select(this).text("").attr("text-anchor", anchor).attr("x", x);
        t.append("tspan").text(d);
        t.append("tspan").attr("dx", 8).style("font-size", "24px").text("°");
        t.append("tspan").attr("dx", 16).text(letter);
    });
}
function spine(x0, y0, x1, y1, w) {
    svg.append("rect").attr("x", x0).attr("y", y0).attr("width", x1 - x0).attr("height", y1 - y0)
        .attr("fill", "none").attr("stroke", "#000").attr("stroke-width", w);
}
function label(x, y, txt, rot) {
    var t = svg.append("text").attr("text-anchor", "middle").style("font-size", fontPx + "px").text(txt);
    t.attr("transform", "translate(" + x + "," + y + ")" + (rot ? " rotate(" + rot + ")" : ""));
    return t;
}
function panelTag(x, y, txt) {
    svg.append("text").attr("x", x).attr("y", y).text(txt)
        .style("font-family", "Liberation Serif").style("font-weight", "bold").style("font-size", "44px");
}

// ---- panel (a) map
var mapL = 708, mapR = 2288, mapT = 27, mapB = 943;
var lonX = d3.scaleLinear().domain([73, 135]).range([mapL, mapR]);
var latY = d3.scaleLinear().domain([18, 54]).range([mapB, mapT]);
var geoLine = d3.line().x(d => lonX(d[0])).y(d => latY(d[1]));

svg.append("clipPath").attr("id", "mapclip").append("rect")
    .attr("x", mapL).attr("y", mapT).attr("width", mapR - mapL).attr("height", mapB - mapT);
var map = svg.append("g").attr("clip-path", "url(#mapclip)");

map.selectAll("circle.st").data(stations).enter().append("circle")
    .attr("class", "st")
    .attr("cx", d => lonX(d[0])).attr("cy", d => latY(d[1])).attr("r", 8)
    .attr("fill", d => slopeColor(d[2]))
    .attr("stroke", "#1a1a1a").attr("stroke-width", 0.9);

map.selectAll("path.gray").data(grayLines).enter().append("path").attr("class", "gray")
    .attr("d", geoLine).attr("fill", "none").attr("stroke", "#8c8c8c").attr("stroke-width", 2.4).attr("stroke-linejoin", "round");
map.selectAll("path.prov").data(provinceLines).enter().append("path").attr("class", "prov")
    .attr("d", geoLine).attr("fill", "none").attr("stroke", "#000").attr("stroke-width", 2.8).attr("stroke-linejoin", "round");
map.append("path").attr("d", geoLine(chinaOutline)).attr("fill", "none").attr("stroke", "#000").attr("stroke-width", 3.6).attr("stroke-linejoin", "round");
map.selectAll("path.isl").data([hainan, taiwan]).enter().append("path").attr("class", "isl")
    .attr("d", geoLine).attr("fill", "none").attr("stroke", "#000").attr("stroke-width", 3.4).attr("stroke-linejoin", "round");
map.selectAll("path.dash").data(seaDashes.slice(0, 3)).enter().append("path").attr("class", "dash")
    .attr("d", geoLine).attr("stroke", "#000").attr("stroke-width", 2);
map.selectAll("circle.isd").data(islandDots).enter().append("circle").attr("class", "isd")
    .attr("cx", d => lonX(d[0])).attr("cy", d => latY(d[1])).attr("r", 3).attr("fill", "#000");
map.selectAll("circle.cst").data(coastDots).enter().append("circle").attr("class", "cst")
    .attr("cx", d => lonX(d[0])).attr("cy", d => latY(d[1])).attr("r", 4.5).attr("fill", "#000");

var mapXAxis = svg.append("g").attr("transform", "translate(0," + mapB + ")")
    .call(d3.axisBottom(lonX).tickValues([80,90,100,110,120,130]).tickSize(10).tickPadding(10));
styleAxis(mapXAxis);
degreeLabel(mapXAxis, "E", "middle", 25.5);
var mapYAxis = svg.append("g").attr("transform", "translate(" + mapL + ",0)")
    .call(d3.axisLeft(latY).tickValues([20,25,30,35,40,45,50]).tickSize(10).tickPadding(8));
styleAxis(mapYAxis);
degreeLabel(mapYAxis, "N", "end", -7);
spine(mapL, mapT, mapR, mapB, 3);
label(1496, 1025, "Longitude");
label(587, 486, "Latitude", -90);
panelTag(717, 68, "(a)");

// north arrow
svg.append("path").attr("d", d3.line()([[2222, 78], [2246, 53], [2269, 78]]) + "Z").attr("fill", "#000");
svg.append("text").attr("x", 2246).attr("y", 56).attr("text-anchor", "middle").text("N")
    .style("font-family", "DejaVu Sans Mono").style("font-size", "28px");

// inset
var insL = 2062, insR = 2238, insT = 680, insB = 900;
var insLon = d3.scaleLinear().domain([104.8, 125.4]).range([insL, insR]);
var insLat = d3.scaleLinear().domain([3.3, 24.4]).range([insB, insT]);
var insLine = d3.line().x(d => insLon(d[0])).y(d => insLat(d[1]));
svg.append("clipPath").attr("id", "insclip").append("rect")
    .attr("x", insL).attr("y", insT).attr("width", insR - insL).attr("height", insB - insT);
svg.append("rect").attr("x", insL).attr("y", insT).attr("width", insR - insL).attr("height", insB - insT).attr("fill", "#fff");
var inset = svg.append("g").attr("clip-path", "url(#insclip)");
inset.selectAll("path.o").data([chinaOutline, hainan, taiwan].concat(seaDashes)).enter().append("path").attr("class", "o")
    .attr("d", insLine).attr("fill", "none").attr("stroke", "#000").attr("stroke-width", 1.4);
inset.selectAll("circle").data(islandDots).enter().append("circle")
    .attr("cx", d => insLon(d[0])).attr("cy", d => insLat(d[1])).attr("r", 1.3).attr("fill", "#000");
spine(insL, insT, insR, insB, 2);

// colour bar
var cbL = 2387, cbR = 2433, cbT = 32, cbB = 937;
var cbY = d3.scaleLinear().domain([-0.5545, 0, 0.1885]).range([cbB, 484.5, cbT]);
svg.selectAll("rect.cb").data(d3.range(cbT, cbB, 2)).enter().append("rect").attr("class", "cb")
    .attr("x", cbL).attr("width", cbR - cbL).attr("y", d => d).attr("height", 2.5)
    .attr("fill", d => slopeColor(cbY.invert(d + 1)));
var cbAxis = svg.append("g").attr("transform", "translate(" + cbR + ",0)")
    .call(d3.axisRight(cbY).tickValues(slopeTicks).tickSize(10).tickPadding(12).tickFormat(d3.format(".1f")));
styleAxis(cbAxis);
spine(cbL, cbT, cbR, cbB, 2.6);
label(2556, 484, "Sen's Slope (mm/day/year)", -90);

// ---- panel (b) line chart
var bL = 138, bR = 1676, bT = 1072, bB = 1983;
var yearX = d3.scaleLinear().domain([2001.2, 2018.8]).range([bL, bR]);
var peY = d3.scaleLinear().domain([3.435, 4.826]).range([bB, bT]);
var gridX = d3.range(2002, 2019, 2), gridY = [3.6, 3.8, 4.0, 4.2, 4.4, 4.6, 4.8];

svg.selectAll("line.gx").data(gridX).enter().append("line").attr("class", "gx")
    .attr("x1", d => yearX(d)).attr("x2", d => yearX(d)).attr("y1", bT).attr("y2", bB)
    .attr("stroke", "#b0b0b0").attr("stroke-width", 2.2);
svg.selectAll("line.gy").data(gridY).enter().append("line").attr("class", "gy")
    .attr("x1", bL).attr("x2", bR).attr("y1", d => peY(d)).attr("y2", d => peY(d))
    .attr("stroke", "#b0b0b0").attr("stroke-width", 2.6);

var peRows = years.map((y, i) => [y, meanPE[i]]);
var peLine = d3.line().x(d => yearX(d[0])).y(d => peY(d[1]));
svg.append("path").attr("d", peLine(peRows)).attr("fill", "none").attr("stroke", "#0077bb").attr("stroke-width", 4.4);
svg.selectAll("circle.pe").data(peRows).enter().append("circle").attr("class", "pe")
    .attr("cx", d => yearX(d[0])).attr("cy", d => peY(d[1])).attr("r", 10).attr("fill", "#0077bb");
svg.append("path").attr("d", peLine(trendYears.map((y, i) => [y, trendPE[i]])))
    .attr("fill", "none").attr("stroke", "#ff0000").attr("stroke-width", 4.2).attr("stroke-dasharray", "16,6");

var bX = svg.append("g").attr("transform", "translate(0," + bB + ")")
    .call(d3.axisBottom(yearX).tickValues(gridX).tickSize(10).tickPadding(9).tickFormat(d3.format("d")));
styleAxis(bX);
var bY = svg.append("g").attr("transform", "translate(" + bL + ",0)")
    .call(d3.axisLeft(peY).tickValues(gridY).tickSize(10).tickPadding(9).tickFormat(d3.format(".1f")));
styleAxis(bY);
spine(bL, bT, bR, bB, 2.6);
label(907, 2070, "Year");
label(50, 1527, "Pan Evaporation (mm/day)", -90);

// legend
svg.append("rect").attr("x", 154).attr("y", 1086).attr("width", 508).attr("height", 99).attr("rx", 5)
    .attr("fill", "#fff").attr("fill-opacity", 0.8).attr("stroke", "#d5d5d5").attr("stroke-width", 2.2);
svg.append("line").attr("x1", 162).attr("x2", 227).attr("y1", 1111).attr("y2", 1111).attr("stroke", "#0077bb").attr("stroke-width", 4.4);
svg.append("circle").attr("cx", 195).attr("cy", 1111).attr("r", 10).attr("fill", "#0077bb");
svg.append("line").attr("x1", 164).attr("x2", 225).attr("y1", 1156).attr("y2", 1156).attr("stroke", "#ff0000").attr("stroke-width", 4.2).attr("stroke-dasharray", "16,6");
svg.append("text").attr("x", 249).attr("y", 1121).style("font-size", fontPx + "px").text("National Annual Mean PE");
svg.append("text").attr("x", 249).attr("y", 1166).style("font-size", fontPx + "px").text("Trend Line (slope = -0.015)");
panelTag(150, 1230, "(b)");

// ---- panel (c) bars
var cL = 1860, cR = 3176, cT = 1072, cB = 1898;
var catX = d3.scaleBand().domain(trendCats).range([cL, cR]).paddingInner(0.2).paddingOuter(0.1);
var countY = d3.scaleLinear().domain([0, 556.6]).range([cB, cT]);
svg.selectAll("rect.bar").data(trendCats).enter().append("rect").attr("class", "bar")
    .attr("x", d => catX(d)).attr("width", catX.bandwidth())
    .attr("y", (d, i) => countY(trendCounts[i])).attr("height", (d, i) => cB - countY(trendCounts[i]))
    .attr("fill", (d, i) => trendColors[i]);
var cY = svg.append("g").attr("transform", "translate(" + cL + ",0)")
    .call(d3.axisLeft(countY).tickValues([0,100,200,300,400,500]).tickSize(10).tickPadding(9));
styleAxis(cY);
var cX = svg.append("g").attr("transform", "translate(0," + cB + ")")
    .call(d3.axisBottom(catX).tickSize(10).tickFormat(""));
styleAxis(cX);
spine(cL, cT, cR, cB, 2.6);
var catLabelY = [1969, 1986, 1984];
trendCats.forEach(function(c, i) {
    label(catX(c) + catX.bandwidth() / 2, catLabelY[i], c, -15);
});
label(2516, 2070, "trend_significance");
label(1765, 1485, "Number of Stations", -90);
panelTag(1864, 1109, "(c)");
</script>
</body>
</html>
